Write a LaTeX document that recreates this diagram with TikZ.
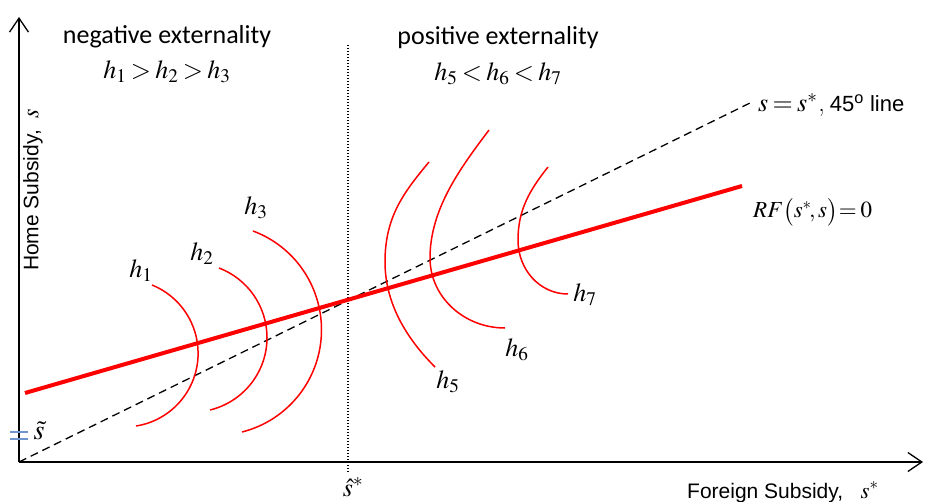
\documentclass[tikz,border=0pt]{standalone}
\usepackage{mathptmx}
\usepackage{fontspec}
\newfontfamily\calibrifont{Carlito}
\newfontfamily\arialfont{Liberation Sans}
\usetikzlibrary{arrows.meta}
\definecolor{curvered}{RGB}{255,0,0}
\definecolor{markblue}{RGB}{110,150,205}
\begin{document}
\begin{tikzpicture}[x=1pt,y=-1pt,
  axisline/.style={line width=1.3pt,-{Straight Barb[length=14pt,width=19pt,line width=1.3pt]}},
  rfline/.style={line width=4pt,curvered},
  hcurve/.style={line width=1.5pt,curvered},
  fortyfive/.style={line width=1.3pt,dash pattern=on 8pt off 5pt},
  vdots/.style={line width=1.2pt,dash pattern=on 1.3pt off 1.7pt},
  head/.style={inner sep=0pt,font=\calibrifont\fontsize{26}{30}\selectfont},
  mt/.style={inner sep=0pt,font=\fontsize{26}{30}\selectfont},
  lab/.style={inner sep=0pt,font=\fontsize{26}{30}\selectfont},
  axlab/.style={inner sep=0pt,font=\arialfont\fontsize{21}{25}\selectfont}]
\useasboundingbox (0,0) rectangle (925,502);

% coordinates
\coordinate (O) at (19,462);
\coordinate (Ytop) at (19,17);
\coordinate (Xend) at (923,462);
\coordinate (D1) at (348,45);
\coordinate (D2) at (348,472);
\coordinate (F45) at (750,103);
\coordinate (R1) at (25,393);
\coordinate (R2) at (742,186);

% axes
\draw[axisline] (O) -- (Ytop);
\draw[axisline] (O) -- (Xend);
\draw[vdots] (D1) -- (D2);

% 45 degree line
\draw[fortyfive] (O) -- (F45);

% indifference curves (negative externality)
\draw[hcurve] (152,285) .. controls (179.8,296.2) and (198.1,323.3) .. (198.1,353.3)
                        .. controls (198.1,389.5) and (171.8,420.4) .. (136,426);
\draw[hcurve] (219,268) .. controls (247.9,279) and (267,306.7) .. (267,337.6)
                        .. controls (267,372) and (243.4,401.8) .. (210,410);
\draw[hcurve] (253,231) .. controls (294.3,246.3) and (321.5,285.8) .. (321.5,329.8)
                        .. controls (321.5,378) and (288.8,420.2) .. (242,432);
% indifference curves (positive externality)
\draw[hcurve] (429,162) .. controls (403.4,192.8) and (385,217) .. (385,262)
                        .. controls (385,307) and (410.5,342.5) .. (435,367);
\draw[hcurve] (489,130) .. controls (462,166) and (430,208) .. (430,258)
                        .. controls (430,297) and (464,328) .. (505,328);
\draw[hcurve] (548,167) .. controls (529.4,190.4) and (518,210) .. (518,240)
                        .. controls (518,270) and (540,294) .. (568,294);

% reaction function
\draw[rfline] (R1) -- (R2);

% blue marker
\draw[markblue,line width=2.2pt] (10,432) -- (28,432);
\draw[markblue,line width=2.2pt] (10,439) -- (28,439);

% labels
\node[head] (neg) at (167,37) {negative externality};
\node[mt] (negh) at (167,72) {$\thickmuskip=3mu h_1 > h_2 > h_3$};
\node[head] (pos) at (498,38) {positive externality};
\node[mt] (posh) at (498,74) {$\thickmuskip=3mu h_5 < h_6 < h_7$};

\node[lab,anchor=west] (fortyl) at (758,105)
  {$\thickmuskip=3mu s = s^*$\kern1pt,\kern5pt{\arialfont\fontsize{22}{26}\selectfont 45\textsuperscript{o} line}};
\node[lab,anchor=west,font=\fontsize{23}{27}\selectfont] (rfl) at (753,212) {$\thickmuskip=3mu RF\bigl(s^*\!,s\bigr)\!=0$};

\node[lab] (l1) at (141,271) {$h_1$};
\node[lab] (l2) at (202,254) {$h_2$};
\node[lab] (l3) at (256,208) {$h_3$};
\node[lab] (l5) at (448,382) {$h_5$};
\node[lab] (l6) at (517,350) {$h_6$};
\node[lab] (l7) at (585,295) {$h_7$};

\node[axlab,rotate=90] (ylab) at (33,190) {Home Subsidy,\ \ {\fontsize{24}{28}\selectfont$s$}};
\node[axlab,anchor=base west] (xlab) at (687,498) {Foreign Subsidy,\ \ \ {\fontsize{23}{28}\selectfont$s^*$}};
\node[lab] (shat) at (353,487) {$\hat{s}^*$};
\node[lab,font=\fontsize{28}{30}\selectfont] (stil) at (39,431) {$\tilde{s}$};
\end{tikzpicture}
\end{document}
